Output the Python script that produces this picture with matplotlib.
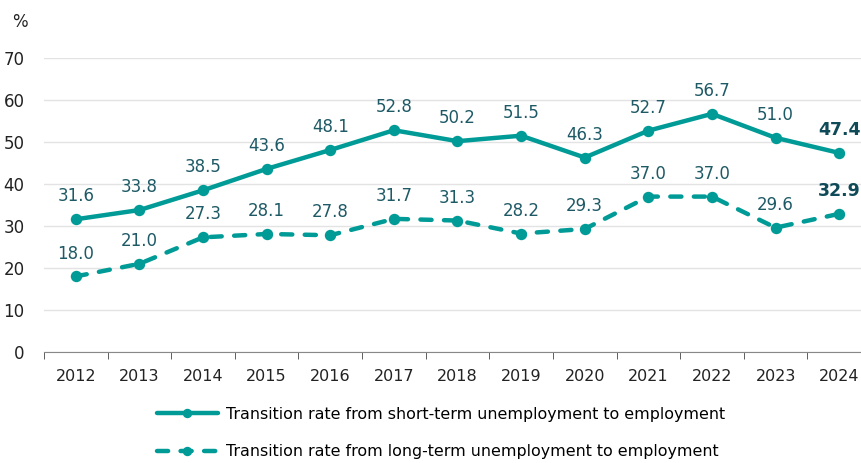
import numpy as np
import matplotlib.pyplot as plt
import matplotlib as mpl

mpl.rc('font', family='DejaVu Sans', size=12)

years = ['2012', '2013', '2014', '2015', '2016', '2017', '2018',
         '2019', '2020', '2021', '2022', '2023', '2024']
short_term = [31.6, 33.8, 38.5, 43.6, 48.1, 52.8, 50.2, 51.5, 46.3, 52.7, 56.7, 51.0, 47.4]
long_term = [18.0, 21.0, 27.3, 28.1, 27.8, 31.7, 31.3, 28.2, 29.3, 37.0, 37.0, 29.6, 32.9]
labels = ['Transition rate from short-term unemployment to employment',
          'Transition rate from long-term unemployment to employment']

line_col = '#009B96'
text_col = '#1E5A66'
bold_col = '#0F4A58'

fig = plt.figure(figsize=(8.62, 4.63), dpi=100)
ax = fig.add_axes([44/862, 1-352/463, 827/862, 294/463])

x = np.arange(len(years))
l1, = ax.plot(x, short_term, color=line_col, lw=3.2, marker='o', ms=7.2,
              solid_capstyle='round')
l2, = ax.plot(x, long_term, color=line_col, lw=3.2, marker='o', ms=7.2,
              ls=(0, (2.5, 2.8)), dash_capstyle='round')

for series in (short_term, long_term):
    for i, v in enumerate(series):
        last = i == len(series) - 1
        ax.annotate('%.1f' % v, (i, v), xytext=(0, 10), textcoords='offset points',
                    ha='center', va='bottom', fontsize=12.5 if last else 12,
                    color=bold_col if last else text_col,
                    fontweight='bold' if last else 'normal')

ax.set_xlim(-0.5, len(years) - 0.5)
ax.set_ylim(0, 70)
ax.set_yticks(range(0, 71, 10))
ax.set_xticks(x)
ax.set_xticklabels(years)
ax.set_xticks(np.arange(-0.5, len(years), 1), minor=True)
ax.tick_params(axis='x', which='major', length=0, pad=12, labelsize=11.5, colors='#222222')
ax.tick_params(axis='x', which='minor', length=5, color='#444444')
ax.tick_params(axis='y', length=0, pad=14, labelsize=12, colors='#222222')
ax.grid(axis='y', color='#E3E3E3', lw=1)
ax.set_axisbelow(True)
for s in ('top', 'right', 'left'):
    ax.spines[s].set_visible(False)
ax.spines['bottom'].set_color('#888888')

fig.text(12/862, 1-22/463, '%', fontsize=12, color='#222222', va='center')

fig.legend([l1, l2], labels, loc='center', bbox_to_anchor=(441/862, 1-433/463),
           ncol=1, frameon=False, fontsize=11.4, handlelength=3.9,
           labelspacing=1.4, handletextpad=0.5, markerscale=0.8)

fig.savefig('out.png', dpi=100)
